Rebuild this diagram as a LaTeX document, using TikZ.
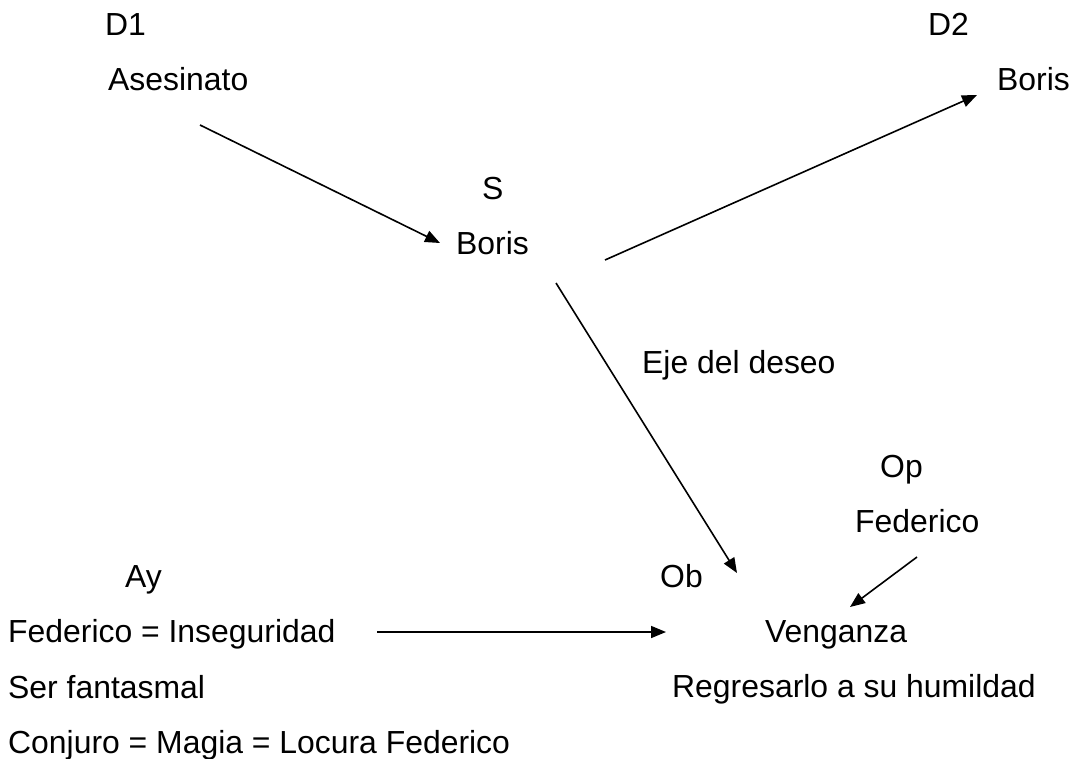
\documentclass[tikz,border=0pt]{standalone}
\usepackage{fontspec}
\setmainfont{Liberation Sans}
\usetikzlibrary{arrows.meta}
\begin{document}
\begin{tikzpicture}[x=1pt,y=-1pt,
  lbl/.style={anchor=base west,inner sep=0pt,font=\fontsize{31.9}{38}\selectfont},
  arr/.style={line width=1.6pt,-{Triangle[length=15pt,width=12pt]}}]
\useasboundingbox (0,0) rectangle (1071,758);
\node[lbl] (d1) at (105,35) {D1};
\node[lbl] (ases) at (108,90) {Asesinato};
\node[lbl] (d2) at (928,35) {D2};
\node[lbl] (boris2) at (997,90) {Boris};
\node[lbl] (s) at (482,199) {S};
\node[lbl] (boris) at (456,254) {Boris};
\node[lbl] (eje) at (642,373) {Eje del deseo};
\node[lbl] (op) at (880,477) {Op};
\node[lbl] (fedop) at (855,532) {Federico};
\node[lbl] (ay) at (125,587) {Ay};
\node[lbl] (ob) at (660,587) {Ob};
\node[lbl] (fedins) at (8,642) {Federico = Inseguridad};
\node[lbl] (veng) at (765,642) {Venganza};
\node[lbl] (ser) at (8,698) {Ser fantasmal};
\node[lbl] (regr) at (672,697) {Regresarlo a su humildad};
\node[lbl] (conj) at (8,753) {Conjuro = Magia = Locura Federico};
\coordinate (a1s) at (200,125);
\coordinate (a1e) at (440,243);
\coordinate (a2s) at (605,260);
\coordinate (a2e) at (977,95);
\coordinate (a3s) at (556,283);
\coordinate (a3e) at (737,573);
\coordinate (a4s) at (917,557);
\coordinate (a4e) at (850,607);
\coordinate (a5s) at (377,632);
\coordinate (a5e) at (666,632);
\draw[arr] (a1s) -- (a1e);
\draw[arr] (a2s) -- (a2e);
\draw[arr] (a3s) -- (a3e);
\draw[arr] (a4s) -- (a4e);
\draw[arr] (a5s) -- (a5e);
\end{tikzpicture}
\end{document}
